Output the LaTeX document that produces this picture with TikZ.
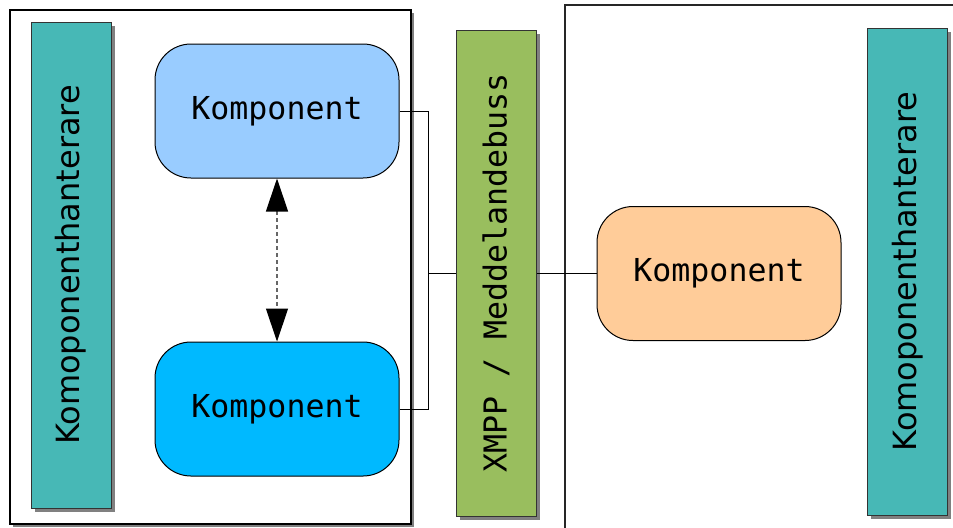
\documentclass[tikz,border=0pt]{standalone}
\usepackage{fontspec}
\setmainfont{DejaVu Sans}
\setmonofont{DejaVu Sans Mono}
\usepackage{tikz}
\usetikzlibrary{arrows.meta, calc, positioning, shadows}
\definecolor{hellblau}{HTML}{99CCFF}
\definecolor{tiefblau}{HTML}{00B9FF}
\definecolor{orange}{HTML}{FFCC99}
\definecolor{petrol}{HTML}{47B8B6}
\definecolor{gruen}{HTML}{99BE5E}

\begin{document}
\begin{tikzpicture}[
        x=0.5pt, y=-0.5pt,
        frame/.style={draw, line width=0.55pt, fill=white, inner sep=0pt,
                      drop shadow={shadow xshift=1.5pt, shadow yshift=-1.5pt,
                                   fill=gray, opacity=1}},
        comp/.style={draw, line width=0.5pt, rounded corners=18pt,
                     minimum width=122pt, minimum height=67pt,
                     font=\fontsize{15.8}{19}\selectfont\ttfamily},
        bar/.style={draw=black!80, line width=0.5pt, inner sep=0pt,
                    minimum width=40pt, minimum height=243pt,
                    drop shadow={shadow xshift=1.8pt, shadow yshift=-1.8pt,
                                 fill=gray, opacity=1}},
        link/.style={line width=0.5pt},
        dasharrow/.style={{Triangle[length=16.5pt, width=11pt, color=black]}-{Triangle[length=16.5pt, width=11pt, color=black]},
                          draw=black!60, line width=0.6pt, dash pattern=on 2pt off 1.5pt}
      ]
      \useasboundingbox (0,0) rectangle (953,527);
      % the two hosts
      \node[frame, minimum width=200.5pt, minimum height=257pt] (hostA) at (210.5,267) {};
      \draw[line width=0.65pt, draw=black!85] (565,5) rectangle (980,560);
      % component managers and the bus
      \node[bar, fill=petrol] (mgrA) at (71,265)
        {\rotatebox{90}{\fontsize{16}{19}\selectfont Komoponenthanterare}};
      \node[bar, fill=petrol, minimum height=243.5pt] (mgrB) at (907.5,271.5)
        {\rotatebox{90}{\fontsize{16}{19}\selectfont Komoponenthanterare}};
      \node[bar, fill=gruen] (bus) at (496,273)
        {\rotatebox{90}{\fontsize{15.8}{19}\selectfont\ttfamily XMPP / Meddelandebuss}};
      % components
      \node[comp, fill=hellblau] (k1) at (277,111) {Komponent};
      \node[comp, fill=tiefblau] (k2) at (277,409) {Komponent};
      \node[comp, fill=orange]   (k3) at (719,273.5) {Komponent};
      % connectors
      \coordinate (junc) at (428,273);
      \draw[link] (k1.east) -| (junc);
      \draw[link] (k2.east) -| (junc);
      \draw[link] (junc) -- (junc -| bus.west);
      \draw[link] (bus.east |- k3.west) -- (k3.west);
      \draw[dasharrow] (k1.south) -- (k2.north);
    \end{tikzpicture}
\end{document}
